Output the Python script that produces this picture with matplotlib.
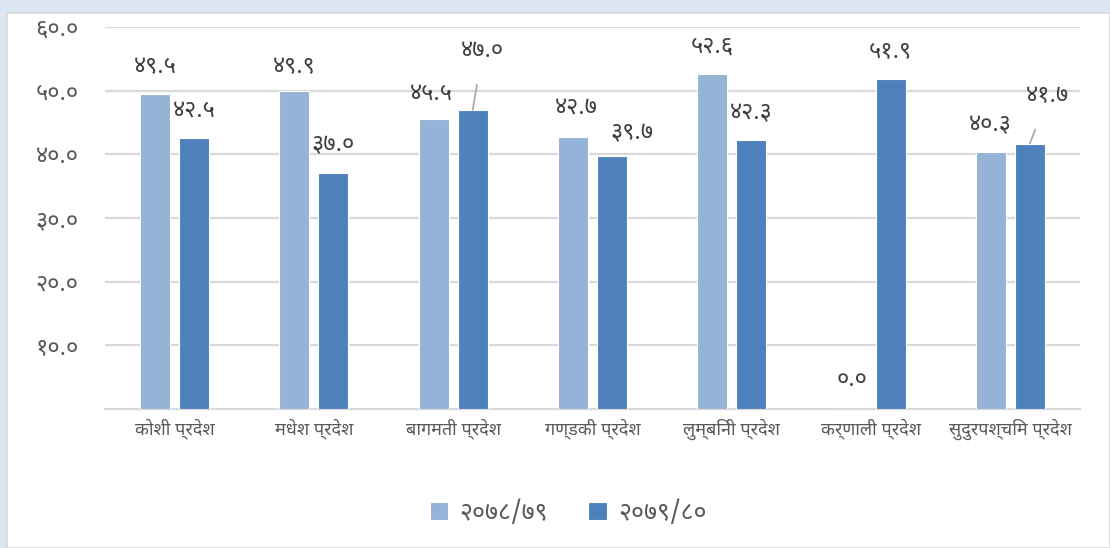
import matplotlib
matplotlib.use("Agg")
import matplotlib.pyplot as plt
from matplotlib.patches import Rectangle
import numpy as np

# data
provinces = ["कोशी प्रदेश", "मधेश प्रदेश", "बागमती प्रदेश", "गण्डकी प्रदेश",
             "लुम्बिनी प्रदेश", "कर्णाली प्रदेश", "सुदुरपश्चिम प्रदेश"]
fy_2078 = [49.5, 49.9, 45.5, 42.7, 52.6, 0.0, 40.3]
fy_2079 = [42.5, 37.0, 47.0, 39.7, 42.3, 51.9, 41.7]
series_names = ["२०७८/७९", "२०७९/८०"]
yticks = [10, 20, 30, 40, 50, 60]

DEV_DIGITS = str.maketrans("0123456789", "०१२३४५६७८९")


def to_dev(v):
    return f"{v:.1f}".translate(DEV_DIGITS)


plt.rcParams["font.family"] = ["Noto Sans Devanagari", "DejaVu Sans"]

LIGHT = "#95B3D7"
DARK = "#4F81BD"
GRID = "#D9D9D9"
TXT = "#595959"

fig = plt.figure(figsize=(11.1, 5.48), dpi=100, facecolor="#DCE6F2")
# white chart area with thin border
fig.patches.append(Rectangle((7 / 1110, 0), 1 - 7 / 1110, 1 - 13 / 548,
                             transform=fig.transFigure, facecolor="white",
                             edgecolor=GRID, linewidth=1.2, zorder=-10))

ax = fig.add_axes([105 / 1110, (548 - 409) / 548, 975 / 1110, 382 / 548])
ax.set_facecolor("none")

x = np.arange(len(provinces))
w = 0.215
off = 0.14
b1 = ax.bar(x - off, fy_2078, w, color=LIGHT, edgecolor="white", linewidth=0.8,
            label=series_names[0], zorder=3)
b2 = ax.bar(x + off, fy_2079, w, color=DARK, edgecolor="white", linewidth=0.8,
            label=series_names[1], zorder=3)

ax.set_xlim(-0.5, len(provinces) - 0.5)
ax.set_ylim(0, 60)
ax.set_yticks(yticks)
ax.set_yticklabels([to_dev(t) for t in yticks], fontsize=17, color=TXT)
ax.set_xticks(x)
ax.set_xticklabels(provinces, fontsize=13, color=TXT)
ax.tick_params(axis="both", length=0)
ax.tick_params(axis="y", pad=19)
ax.tick_params(axis="x", pad=7)
ax.yaxis.grid(True, color=GRID, linewidth=1.6, zorder=0)
for s in ["top", "right", "left"]:
    ax.spines[s].set_visible(False)
ax.spines["bottom"].set_color(GRID)
ax.spines["bottom"].set_linewidth(1.6)

# label offsets in pixels (dx, dy), some were dragged by hand in the source
off_2078 = [(0, 27), (0, 24), (-2, 25), (3, 30), (0, 28), (0, 29), (0, 27)]
off_2079 = [(0, 28), (0, 28), (10, 59), (20, 23), (0, 27), (0, 27), (18, 47)]
leader_2079 = [False, False, True, False, False, False, True]

for bars, vals, offs, leads in [(b1, fy_2078, off_2078, [False] * 7),
                                (b2, fy_2079, off_2079, leader_2079)]:
    for rect, v, (dx, dy), lead in zip(bars, vals, offs, leads):
        cx = rect.get_x() + rect.get_width() / 2
        props = None
        if lead:
            props = dict(arrowstyle="-", color="#A6A6A6", lw=1.2,
                         shrinkA=14, shrinkB=0)
        ax.annotate(to_dev(v), (cx, v), xytext=(dx, dy),
                    textcoords="offset pixels", ha="center", va="center",
                    fontsize=17, color="#404040", arrowprops=props, zorder=4)

leg = fig.legend(handles=[b1, b2], labels=series_names, loc="center",
                 bbox_to_anchor=(568 / 1110, 1 - 513 / 548), ncol=2,
                 frameon=False, handlelength=0.75, handleheight=0.75,
                 columnspacing=1.6, handletextpad=0.45, prop={"size": 18})
for t in leg.get_texts():
    t.set_color(TXT)

fig.savefig("out.png", dpi=100, facecolor=fig.get_facecolor())
